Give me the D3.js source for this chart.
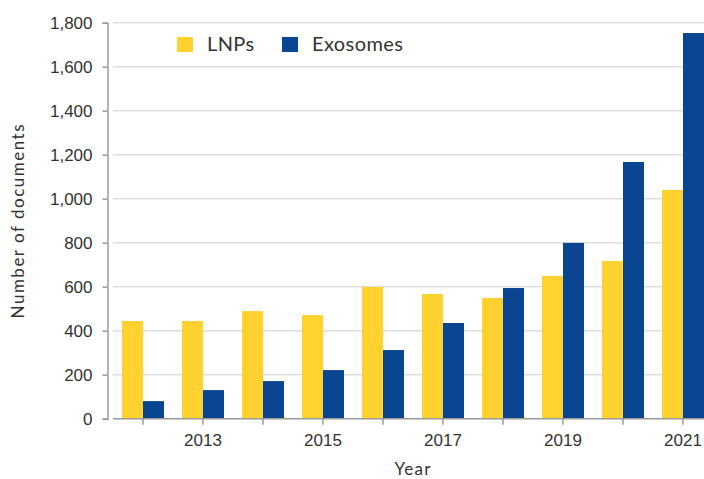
<!DOCTYPE html>
<html>
<head>
<meta charset="utf-8">
<script src="https://cdn.jsdelivr.net/npm/d3@7"></script>
<style>
  html, body { margin: 0; padding: 0; background: #fff; }
  svg { display: block; font-family: Lato, "Open Sans", sans-serif; }
</style>
</head>
<body>
<div id="chart"></div>
<script>
const years = [2012, 2013, 2014, 2015, 2016, 2017, 2018, 2019, 2020, 2021];
const lnps = [444, 444, 489, 471, 599, 567, 549, 649, 717, 1040];
const exosomes = [80, 130, 171, 221, 312, 435, 594, 799, 1167, 1753];
const yTicks = [0, 200, 400, 600, 800, 1000, 1200, 1400, 1600, 1800];
const labelledYears = [2013, 2015, 2017, 2019, 2021];
const seriesNames = ["LNPs", "Exosomes"];

const width = 704;
const height = 479;
const margin = { top: 22.7, right: -9, bottom: 60.3, left: 113 };

const colorLnp = "#ffd230";
const colorExo = "#0a4591";
const axisColor = "#9a9a9a";
const textColor = "#333";

const svg = d3.select("#chart").append("svg")
    .attr("width", width)
    .attr("height", height);

const x = d3.scaleBand()
    .domain(years)
    .range([margin.left, width - margin.right])
    .paddingInner(0.3)
    .paddingOuter(0.15);

const xSub = d3.scaleBand()
    .domain(seriesNames)
    .range([0, x.bandwidth()]);

const y = d3.scaleLinear()
    .domain([0, 1800])
    .range([height - margin.bottom, margin.top]);

// gridlines
svg.append("g")
    .selectAll("line")
    .data(yTicks.filter(d => d > 0))
    .enter()
    .append("line")
    .attr("x1", margin.left)
    .attr("x2", width)
    .attr("y1", d => y(d))
    .attr("y2", d => y(d))
    .attr("stroke", "#dedede")
    .attr("stroke-width", 1.6);

const data = years.map((yr, i) => ({ year: yr, LNPs: lnps[i], Exosomes: exosomes[i] }));

svg.append("g")
    .selectAll("g")
    .data(data)
    .enter()
    .append("g")
    .attr("transform", d => `translate(${x(d.year)},0)`)
    .selectAll("rect")
    .data(d => seriesNames.map(k => ({ key: k, value: d[k] })))
    .enter()
    .append("rect")
    .attr("x", d => xSub(d.key))
    .attr("width", xSub.bandwidth())
    .attr("y", d => y(d.value))
    .attr("height", d => y(0) - y(d.value))
    .attr("fill", d => d.key === "LNPs" ? colorLnp : colorExo);

// y axis
const yAxis = svg.append("g")
    .attr("transform", `translate(107.5,0)`)
    .call(d3.axisLeft(y).tickValues(yTicks).tickSize(5).tickPadding(10).tickFormat(d3.format(",")));
yAxis.select(".domain").attr("stroke", axisColor).attr("stroke-width", 1.5);
yAxis.selectAll(".tick line").attr("stroke", axisColor).attr("stroke-width", 1.5);
yAxis.selectAll("text")
    .style("font-size", "17px")
    .attr("fill", textColor);

// x axis
const xAxis = svg.append("g")
    .attr("transform", `translate(0,${y(0)})`)
    .call(d3.axisBottom(x).tickSize(6).tickSizeOuter(0).tickPadding(9)
        .tickFormat(d => labelledYears.includes(d) ? d : ""));
xAxis.select(".domain")
    .attr("d", `M${margin.left},0H${width}`)
    .attr("stroke", axisColor)
    .attr("stroke-width", 1.5);
xAxis.selectAll(".tick line").attr("stroke", axisColor).attr("stroke-width", 1.5);
xAxis.selectAll("text")
    .style("font-size", "17px")
    .attr("fill", textColor);

// axis titles
svg.append("text")
    .attr("x", (margin.left + x.range()[1]) / 2)
    .attr("y", 475)
    .attr("text-anchor", "middle")
    .style("font-size", "17px")
    .style("letter-spacing", "1.2px")
    .attr("fill", textColor)
    .text("Year");

svg.append("text")
    .attr("transform", `translate(24,${(y(0) + y(1800)) / 2}) rotate(-90)`)
    .attr("text-anchor", "middle")
    .style("font-size", "17px")
    .style("letter-spacing", "1.5px")
    .attr("fill", textColor)
    .text("Number of documents");

// legend
const legend = svg.append("g")
    .selectAll("g")
    .data(seriesNames)
    .enter()
    .append("g")
    .attr("transform", (d, i) => `translate(${[177, 282][i]},37)`);

legend.append("rect")
    .attr("width", 16)
    .attr("height", 15)
    .attr("fill", d => d === "LNPs" ? colorLnp : colorExo);

legend.append("text")
    .attr("x", 30)
    .attr("y", 14.3)
    .style("font-size", "20px")
    .style("letter-spacing", "0.4px")
    .attr("fill", textColor)
    .text(d => d);
</script>
</body>
</html>
